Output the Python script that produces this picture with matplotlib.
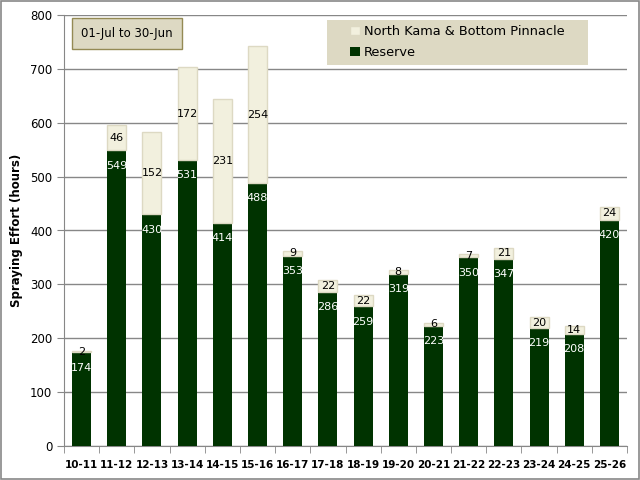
import numpy as np
import matplotlib.pyplot as plt
from matplotlib.patches import Rectangle

seasons = ["10-11", "11-12", "12-13", "13-14", "14-15", "15-16", "16-17", "17-18",
           "18-19", "19-20", "20-21", "21-22", "22-23", "23-24", "24-25", "25-26"]
reserve = [174, 549, 430, 531, 414, 488, 353, 286, 259, 319, 223, 350, 347, 219, 208, 420]
north_kama = [2, 46, 152, 172, 231, 254, 9, 22, 22, 8, 6, 7, 21, 20, 14, 24]

plt.rcParams['font.family'] = ['DejaVu Sans']

fig = plt.figure(figsize=(6.4, 4.8), dpi=100)
ax = fig.add_axes([64 / 640, 1 - 446 / 480, (627 - 64) / 640, (446 - 15) / 480])

x = np.arange(len(seasons))
w = 0.54
b1 = ax.bar(x, reserve, w, color='#003300', label='Reserve', zorder=3)
b2 = ax.bar(x, north_kama, w, bottom=reserve, color='#F2F0DE', edgecolor='#DDD9C3',
            linewidth=1, label='North Kama & Bottom Pinnacle', zorder=3)

for i in range(len(seasons)):
    ax.annotate(str(reserve[i]), (x[i], reserve[i]), xytext=(0, -11),
                textcoords='offset points', ha='center', va='center',
                color='white', fontsize=8, zorder=4)
    ax.text(x[i], reserve[i] + north_kama[i] / 2, str(north_kama[i]),
            ha='center', va='center', color='black', fontsize=8, zorder=4)

ax.set_ylim(0, 800)
ax.set_xlim(-0.5, len(seasons) - 0.5)
ax.set_yticks(range(0, 801, 100))
ax.yaxis.grid(True, color='#878787', linewidth=1, zorder=0)
ax.set_xticks(x)
ax.set_xticklabels(seasons, fontweight='bold', fontsize=7.5)
ax.set_xticks(np.arange(-0.5, len(seasons), 1), minor=True)
ax.tick_params(axis='x', which='major', length=0, pad=10)
ax.tick_params(axis='x', which='minor', length=5, color='#878787')
ax.tick_params(axis='y', labelsize=8.5, length=5, color='#878787')
ax.set_ylabel('Spraying Effort (hours)', fontweight='bold', fontsize=8.5)
ax.yaxis.set_label_coords(-0.072, 0.5)
for s in ['top', 'right']:
    ax.spines[s].set_visible(False)
ax.spines['left'].set_color('#878787')
ax.spines['bottom'].set_color('#878787')

# legend background box
ax.add_patch(Rectangle((327 / 640, 1 - 65 / 480), (588 - 327) / 640, 45 / 480,
                       transform=fig.transFigure, facecolor='#DDD9C3',
                       edgecolor='none', clip_on=False, zorder=5))
leg = ax.legend(handles=[b2, b1], loc='upper left', bbox_to_anchor=(345 / 640, 1 - 20 / 480),
                bbox_transform=fig.transFigure, frameon=False,
                fontsize=9.3, handlelength=0.75, handleheight=0.75, handletextpad=0.3,
                labelspacing=0.6, borderpad=0.4, borderaxespad=0)
leg.set_zorder(6)

fig.text(127 / 640, 1 - 33.5 / 480, '01-Jul to 30-Jun', ha='center', va='center', fontsize=8.5,
         bbox=dict(boxstyle='square,pad=0.8', facecolor='#DDD9C3', edgecolor='#948A54'))

fig.patches.append(Rectangle((0.002, 0.002), 0.996, 0.996, transform=fig.transFigure,
                             fill=False, edgecolor='#878787', linewidth=1.2))

fig.savefig('out.png', dpi=100)
